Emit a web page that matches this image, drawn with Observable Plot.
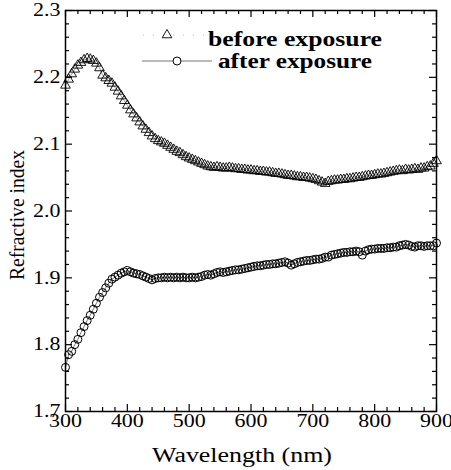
<!DOCTYPE html>
<html><head><meta charset="utf-8">
<script src="https://cdn.jsdelivr.net/npm/d3@7"></script>
<script src="https://cdn.jsdelivr.net/npm/@observablehq/plot@0.6"></script>
<style>body{margin:0;background:#fff}</style>
</head><body><div id="chart"></div>
<script>
const wavelength = [300,305,310,315,320,325,330,335,340,345,350,355,360,365,370,375,380,385,390,395,
400,405,410,415,420,425,430,435,440,445,450,455,460,465,470,475,480,485,490,495,
500,505,510,515,520,525,530,535,540,545,550,555,560,565,570,575,580,585,590,595,
600,605,610,615,620,625,630,635,640,645,650,655,660,665,670,675,680,685,690,695,
700,705,710,715,720,725,730,735,740,745,750,755,760,765,770,775,780,785,790,795,
800,805,810,815,820,825,830,835,840,845,850,855,860,865,870,875,880,885,890,895,900];
const before = [2.188,2.197,2.205,2.212,2.218,2.222,2.226,2.228,2.227,2.225,2.221,2.214,2.203,2.199,2.195,2.191,2.185,2.179,2.172,2.165,
2.158,2.151,2.145,2.139,2.133,2.127,2.122,2.117,2.112,2.108,2.105,2.103,2.101,2.098,2.095,2.092,2.089,2.087,2.084,2.081,
2.079,2.077,2.075,2.073,2.071,2.069,2.067,2.066,2.065,2.066,2.065,2.064,2.064,2.065,2.064,2.063,2.063,2.062,2.062,2.061,
2.061,2.060,2.060,2.059,2.059,2.058,2.058,2.057,2.056,2.056,2.055,2.054,2.053,2.053,2.052,2.051,2.051,2.050,2.050,2.049,
2.048,2.047,2.045,2.043,2.041,2.044,2.045,2.046,2.046,2.047,2.047,2.048,2.048,2.049,2.050,2.050,2.051,2.052,2.053,2.053,
2.054,2.055,2.055,2.056,2.057,2.058,2.059,2.060,2.061,2.060,2.062,2.061,2.062,2.063,2.062,2.064,2.064,2.066,2.067,2.071,2.075];
const after = [1.766,1.785,1.790,1.800,1.808,1.818,1.827,1.836,1.844,1.853,1.862,1.871,1.878,1.885,1.892,1.898,1.901,1.904,1.907,1.909,
1.911,1.909,1.907,1.906,1.905,1.903,1.901,1.899,1.897,1.899,1.900,1.900,1.901,1.900,1.901,1.900,1.901,1.900,1.901,1.900,
1.900,1.901,1.900,1.901,1.902,1.904,1.905,1.904,1.906,1.908,1.909,1.908,1.909,1.910,1.911,1.912,1.912,1.913,1.914,1.915,
1.916,1.917,1.918,1.918,1.919,1.920,1.920,1.921,1.921,1.922,1.923,1.924,1.922,1.919,1.921,1.923,1.924,1.925,1.926,1.926,
1.927,1.928,1.928,1.929,1.931,1.931,1.934,1.935,1.936,1.937,1.938,1.938,1.939,1.939,1.940,1.939,1.934,1.940,1.942,1.943,
1.943,1.944,1.944,1.944,1.945,1.945,1.946,1.946,1.948,1.949,1.950,1.949,1.947,1.946,1.948,1.948,1.947,1.948,1.948,1.948,1.952];
const xMajor = [300,400,500,600,700,800,900];
const xMinor = [320,340,360,380,420,440,460,480,520,540,560,580,620,640,660,680,720,740,760,780,820,840,860,880];
const yMajor = [1.7,1.8,1.9,2.0,2.1,2.2,2.3];
const yMinor = [1.72,1.74,1.76,1.78,1.82,1.84,1.86,1.88,1.92,1.94,1.96,1.98,2.02,2.04,2.06,2.08,2.12,2.14,2.16,2.18,2.22,2.24,2.26,2.28];
const legendLabels = ["before exposure", "after exposure"];
const xTitle = "Wavelength (nm)";
const yTitle = "Refractive index";

const W = 451, H = 470, mL = 65, mR = 15, mT = 10, mB = 59;
const plotH = H - mT - mB;
const plotW = W - mL - mR;
const FONT = '"Liberation Serif", Tinos, "Times New Roman", Times, "Nimbus Roman", "DejaVu Serif", serif';
const MAJ = 7, MIN = 4;

const beforeData = wavelength.map((w, i) => ({w, n: before[i]}));
const afterData = wavelength.map((w, i) => ({w, n: after[i]}));

const tick = (vals, len) => [
  Plot.ruleX(vals, {insetTop: plotH - len, stroke: "#000", strokeWidth: 1.2}),
  Plot.ruleX(vals, {insetBottom: plotH - len, stroke: "#000", strokeWidth: 1.2})
];
const tickY = (vals, len) => [
  Plot.ruleY(vals, {insetRight: plotW - len, stroke: "#000", strokeWidth: 1.2}),
  Plot.ruleY(vals, {insetLeft: plotW - len, stroke: "#000", strokeWidth: 1.2})
];

const chart = Plot.plot({
  width: W, height: H,
  marginLeft: mL, marginRight: mR, marginTop: mT, marginBottom: mB,
  style: {fontFamily: FONT, fontSize: "18px", background: "#fff", color: "#000"},
  x: {domain: [300, 900]},
  y: {domain: [1.7, 2.3]},
  marks: [
    Plot.line(beforeData, {x: "w", y: "n", stroke: "#999", strokeWidth: 1}),
    Plot.dot(beforeData, {x: "w", y: "n", symbol: "triangle", r: 3.6, stroke: "#000", strokeWidth: 0.9, fill: "none"}),
    Plot.line(afterData, {x: "w", y: "n", stroke: "#777", strokeWidth: 1}),
    Plot.dot(afterData, {x: "w", y: "n", symbol: "circle", r: 4, stroke: "#000", strokeWidth: 1, fill: "none"}),
    ...tick(xMajor, MAJ), ...tick(xMinor, MIN),
    ...tickY(yMajor, MAJ), ...tickY(yMinor, MIN),
    Plot.frame({stroke: "#000", strokeWidth: 1.5}),
    Plot.axisX(xMajor, {tickSize: 0, tickPadding: 3, tickFormat: d => String(d), label: null, fontSize: 18}),
    Plot.axisY(yMajor, {tickSize: 0, tickPadding: 5, tickFormat: d => d.toFixed(1), label: null, fontSize: 18})
  ]
});
document.getElementById("chart").appendChild(chart);
chart.querySelectorAll("text").forEach(t => t.style.fontFamily = FONT);

// horizontal stretch of tick labels (reference is horizontally widened)
chart.querySelectorAll('g[aria-label="x-axis tick label"] text, g[aria-label="y-axis tick label"] text').forEach(t => {
  const L = t.getComputedTextLength();
  t.setAttribute("textLength", (L * 1.22).toFixed(1));
  t.setAttribute("lengthAdjust", "spacingAndGlyphs");
});

const svg = d3.select(chart);
const g = svg.append("g").style("font-family", FONT).attr("fill", "#000").attr("text-anchor", "start");
// axis titles
g.append("text").text(xTitle).attr("x", 242).attr("y", 462).attr("text-anchor", "middle")
  .attr("font-size", 20).attr("textLength", 180).attr("lengthAdjust", "spacingAndGlyphs");
g.append("text").text(yTitle).attr("transform", "translate(24,215) rotate(-90)").attr("text-anchor", "middle")
  .attr("font-size", 21).attr("textLength", 130).attr("lengthAdjust", "spacingAndGlyphs");
// legend
g.append("line").attr("x1", 143).attr("x2", 205).attr("y1", 35).attr("y2", 35)
  .attr("stroke", "#bbb").attr("stroke-width", 1).attr("stroke-dasharray", "1,9");
g.append("path").attr("d", d3.symbol(d3.symbolTriangle, 40)()).attr("transform", "translate(167,35)")
  .attr("fill", "none").attr("stroke", "#000").attr("stroke-width", 0.9);
g.append("text").text(legendLabels[0]).attr("x", 208).attr("y", 46).attr("font-size", 20).attr("font-weight", "bold")
  .attr("text-anchor", "start").attr("textLength", 174).attr("lengthAdjust", "spacingAndGlyphs");
g.append("line").attr("x1", 142).attr("x2", 212).attr("y1", 61).attr("y2", 61)
  .attr("stroke", "#777").attr("stroke-width", 1.2);
g.append("circle").attr("cx", 177).attr("cy", 61).attr("r", 4).attr("fill", "#fff").attr("stroke", "#000").attr("stroke-width", 1);
g.append("text").text(legendLabels[1]).attr("x", 218).attr("y", 68).attr("font-size", 20).attr("font-weight", "bold")
  .attr("text-anchor", "start").attr("textLength", 154).attr("lengthAdjust", "spacingAndGlyphs");
</script>
</body></html>
